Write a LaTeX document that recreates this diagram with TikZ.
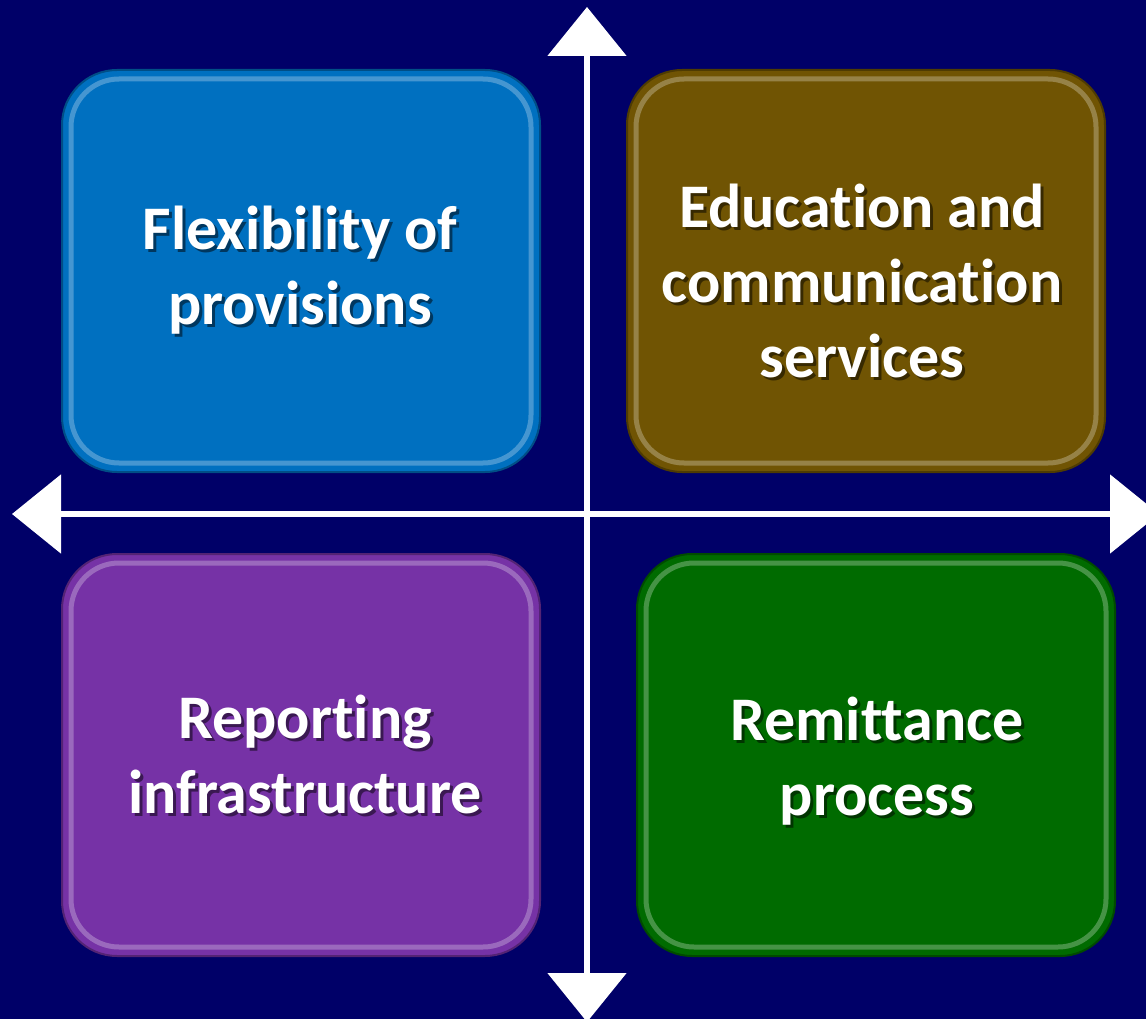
\documentclass[tikz,border=0pt]{standalone}
\usepackage{fontspec}
\setmainfont{Carlito}[Ligatures={NoCommon}]
\usetikzlibrary{arrows.meta}
\definecolor{bgnavy}{RGB}{0,0,104}
\definecolor{cblue}{RGB}{0,112,192}
\definecolor{cbrown}{RGB}{112,84,3}
\definecolor{cpurple}{RGB}{118,50,166}
\definecolor{cgreen}{RGB}{0,107,0}
\tikzset{
  qbox/.style={rectangle, rounded corners=55pt, minimum width=478pt, minimum height=402pt,
    inner sep=0pt, draw=#1!70!black, line width=2pt, fill=#1},
  gloss/.style={rectangle, rounded corners=48pt, minimum width=460pt, minimum height=384pt,
    inner sep=0pt, draw=#1!40!white, draw opacity=0.45, line width=5pt},
  qtext/.style={text=white, font=\bfseries\fontsize{62pt}{75pt}\selectfont, align=center, inner sep=0pt},
  qshadow/.style={text=black, text opacity=0.5, font=\bfseries\fontsize{62pt}{75pt}\selectfont, align=center, inner sep=0pt},
  axis/.style={draw=white, line width=5.5pt, {Triangle[width=78pt,length=49pt]}-{Triangle[width=78pt,length=49pt]}}
}
\begin{document}
\begin{tikzpicture}[x=1pt,y=-1pt]
\fill[bgnavy] (0,0) rectangle (1146,1019);
\useasboundingbox (0,0) rectangle (1146,1019);
% boxes
\node[qbox=cblue] (tl) at (301,271) {};
\node[gloss=cblue] (tlg) at (301,271) {};
\node[qbox=cbrown] (tr) at (866,271) {};
\node[gloss=cbrown] (trg) at (866,271) {};
\node[qbox=cpurple] (bl) at (301,755) {};
\node[gloss=cpurple] (blg) at (301,755) {};
\node[qbox=cgreen] (br) at (876,755) {};
\node[gloss=cgreen] (brg) at (876,755) {};
% texts
\node[qshadow] (tls) at (303,273) {Flexibility of\\provisions};
\node[qtext] (tlt) at (300,270) {Flexibility of\\provisions};
\node[qshadow] (trs) at (865,284) {Education and\\communication\\services};
\node[qtext] (trt) at (862,281) {Education and\\communication\\services};
\node[qshadow] (bls) at (308,757) {Reporting\\infrastructure};
\node[qtext] (blt) at (305,754) {Reporting\\infrastructure};
\node[qshadow] (brs) at (880,764) {Remittance\\process};
\node[qtext] (brt) at (877,761) {Remittance\\process};
% axes
\coordinate (up) at (587,7);
\coordinate (down) at (587,1022);
\coordinate (left) at (12,514);
\coordinate (right) at (1159,514);
\draw[axis] (up) -- (down);
\draw[axis] (left) -- (right);
\end{tikzpicture}
\end{document}
